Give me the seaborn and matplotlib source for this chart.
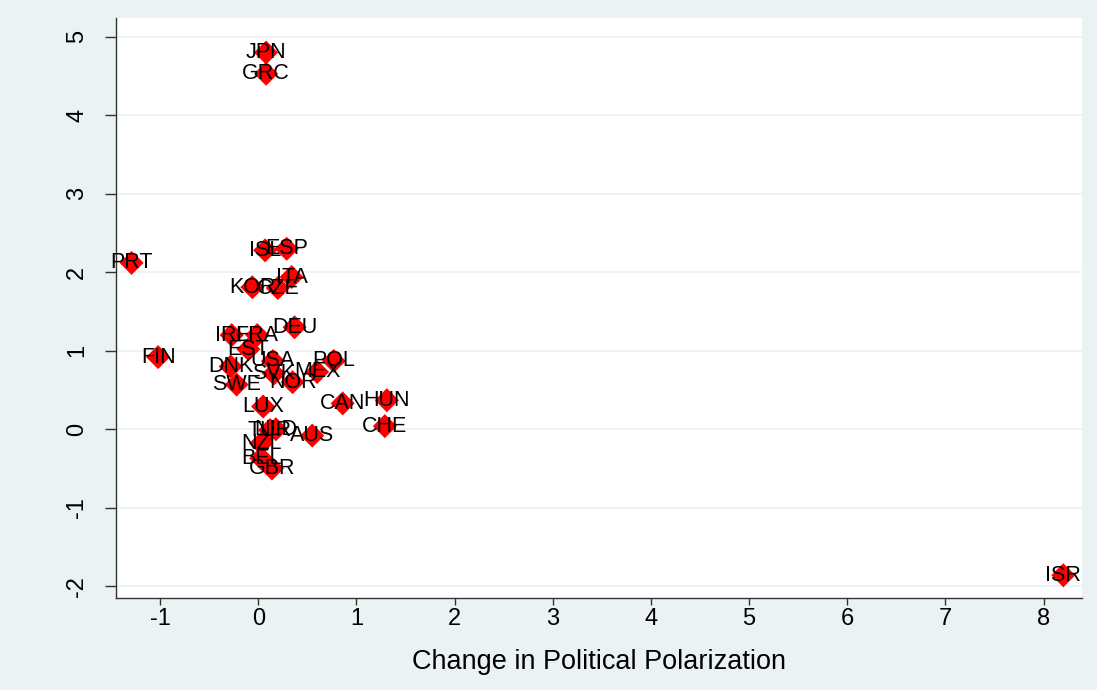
import matplotlib
matplotlib.use("Agg")
import matplotlib.pyplot as plt
import seaborn as sns
import pandas as pd

# ------------------------
# data
countries = ["JPN", "GRC", "PRT", "ISL", "ESP", "ITA", "KOR", "CZE", "DEU", "IRL",
             "FRA", "EST", "FIN", "DNK", "USA", "POL", "MEX", "SVK", "NOR", "SWE",
             "LUX", "CAN", "HUN", "CHE", "TUR", "NLD", "AUS", "NZL", "BEL", "GBR", "ISR"]
polarization_change = [0.08, 0.08, -1.29, 0.07, 0.29, 0.34, -0.06, 0.20, 0.37, -0.27,
                       -0.01, -0.10, -1.02, -0.28, 0.15, 0.77, 0.60, 0.16, 0.35, -0.22,
                       0.05, 0.86, 1.31, 1.29, 0.12, 0.18, 0.55, 0.03, 0.03, 0.14, 8.20]
outcome_change = [4.80, 4.53, 2.12, 2.28, 2.30, 1.94, 1.81, 1.80, 1.30, 1.20,
                  1.20, 1.02, 0.92, 0.80, 0.87, 0.87, 0.73, 0.71, 0.60, 0.57,
                  0.29, 0.33, 0.37, 0.04, -0.01, 0.00, -0.08, -0.18, -0.37, -0.50, -1.86]
x_ticks = [-1, 0, 1, 2, 3, 4, 5, 6, 7, 8]
y_ticks = [-2, -1, 0, 1, 2, 3, 4, 5]

df = pd.DataFrame({"country": countries, "polar": polarization_change, "y": outcome_change})

sns.set_theme(style="white")
plt.rcParams["font.family"] = ["Liberation Sans", "DejaVu Sans"]

bg = "#eaf2f3"
fig = plt.figure(figsize=(10.97, 6.9), dpi=100, facecolor=bg)
ax = fig.add_axes([0.1057, 0.1333, 0.8806, 0.8406])
ax.set_facecolor("white")

sns.scatterplot(data=df, x="polar", y="y", ax=ax, marker="D", s=150,
                color="#ff0000", edgecolor="none", linewidth=0, zorder=3)

# labels centred on the markers (like mlabpos(0))
for _, r in df.iterrows():
    ax.text(r["polar"], r["y"], r["country"], ha="center", va="center",
            fontsize=15.5, color="black", zorder=4)

ax.set_xlim(-1.449, 8.39)
ax.set_ylim(-2.15, 5.24)
ax.set_xticks(x_ticks)
ax.set_yticks(y_ticks)
ax.set_xticklabels([str(t) for t in x_ticks], fontsize=17, color="black")
ax.set_yticklabels([str(t) for t in y_ticks], fontsize=17, color="black",
                   rotation=90, va="center")

for t in y_ticks:
    ax.axhline(t, color=bg, linewidth=1.2, zorder=1)

for side in ["top", "right"]:
    ax.spines[side].set_visible(False)
for side in ["left", "bottom"]:
    ax.spines[side].set_color("#333333")
    ax.spines[side].set_linewidth(1.0)
ax.tick_params(axis="both", direction="out", width=1, color="#333333",
               left=True, bottom=True)
ax.tick_params(axis="y", length=8, pad=12)
ax.tick_params(axis="x", length=5, pad=2)

ax.set_xlabel("Change in Political Polarization", fontsize=19.5, color="black", labelpad=14)
ax.set_ylabel("")

fig.savefig("out.png", dpi=100, facecolor=bg)
